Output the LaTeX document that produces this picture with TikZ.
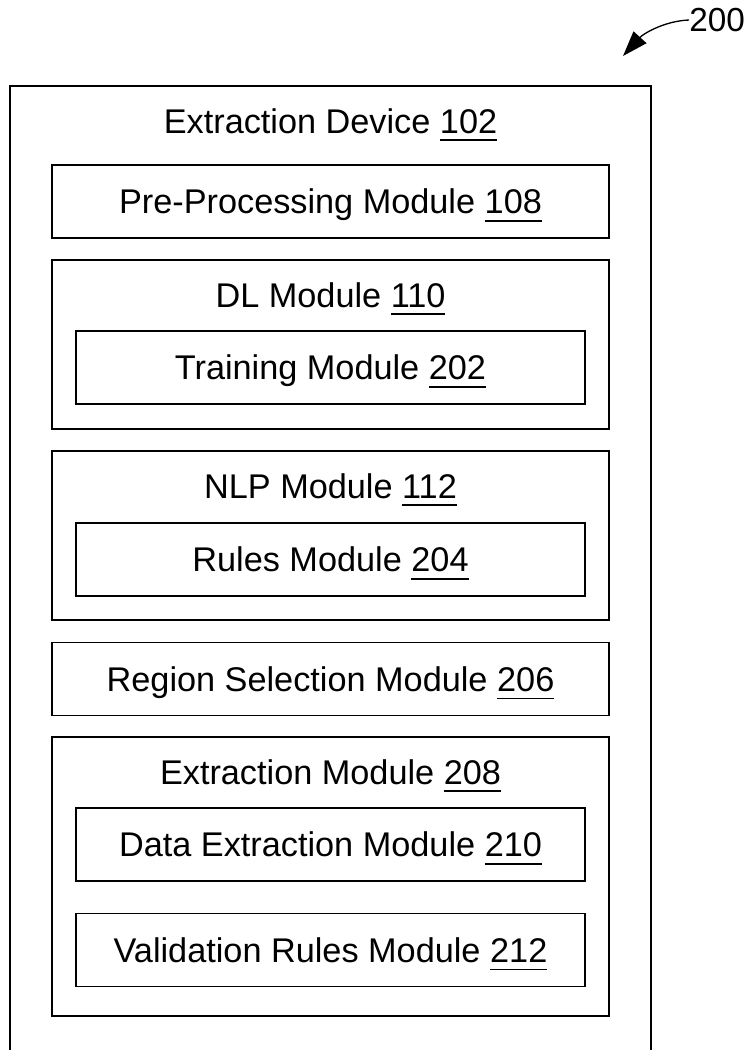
\documentclass[tikz,border=0pt]{standalone}
\usepackage{fontspec}
\setmainfont{Liberation Sans}
\usetikzlibrary{arrows.meta}
\newcommand\ulnum[1]{\setbox0\hbox{#1}\rlap{\rule[-5.8pt]{\wd0}{1pt}}\box0}
\begin{document}
\begin{tikzpicture}[x=0.75pt,y=-0.75pt,
  box/.style={draw, line width=1pt, inner sep=0pt, font=\fontsize{25.7}{30}\selectfont,
    text height=18.4pt, text depth=0pt},
  wide/.style={minimum width=417.75pt},
  narrow/.style={minimum width=381.75pt},
  single/.style={minimum height=54.75pt},
  ttl/.style={anchor=base, inner sep=0pt, font=\fontsize{25.7}{30}\selectfont},
  conn/.style={line width=1pt}]
\useasboundingbox (0,0) rectangle (750,1050);

% outer device box (open at bottom)
\coordinate (obl) at (10,1052);
\coordinate (otl) at (10,86);
\coordinate (otr) at (651,86);
\coordinate (obr) at (651,1052);
\draw[line width=1pt] (obl) -- (otl) -- (otr) -- (obr);
\node[ttl] (devt) at (330.5,133) {Extraction Device \ulnum{102}};

\node[box,wide,single] (pre) at (330.5,201.5) {Pre-Processing Module \ulnum{108}};

\node[box,wide,minimum height=126.75pt] (dl) at (330.5,344.5) {};
\node[ttl] (dlt) at (330.5,307) {DL Module \ulnum{110}};
\node[box,narrow,single] (train) at (330.5,367.5) {Training Module \ulnum{202}};

\node[box,wide,minimum height=126.75pt] (nlp) at (330.5,535.5) {};
\node[ttl] (nlpt) at (330.5,498) {NLP Module \ulnum{112}};
\node[box,narrow,single] (rules) at (330.5,559.5) {Rules Module \ulnum{204}};

\node[box,wide,single] (region) at (330.5,679) {Region Selection Module \ulnum{206}};

\node[box,wide,minimum height=209.25pt] (ext) at (330.5,876.5) {};
\node[ttl] (extt) at (330.5,784) {Extraction Module \ulnum{208}};
\node[box,narrow,single] (data) at (330.5,844.5) {Data Extraction Module \ulnum{210}};
\node[box,narrow,single] (val) at (330.5,950) {Validation Rules Module \ulnum{212}};

% reference label
\node[anchor=west, inner sep=0pt, font=\fontsize{25}{30}\selectfont,
  text height=17.9pt, text depth=0pt] (lbl) at (689,20) {200};
\coordinate (tip) at (623,56);
\draw[conn, -{Triangle[length=19pt,width=13pt]}] (lbl.west) .. controls (664,21) and (643,34) .. (tip);
\end{tikzpicture}
\end{document}
